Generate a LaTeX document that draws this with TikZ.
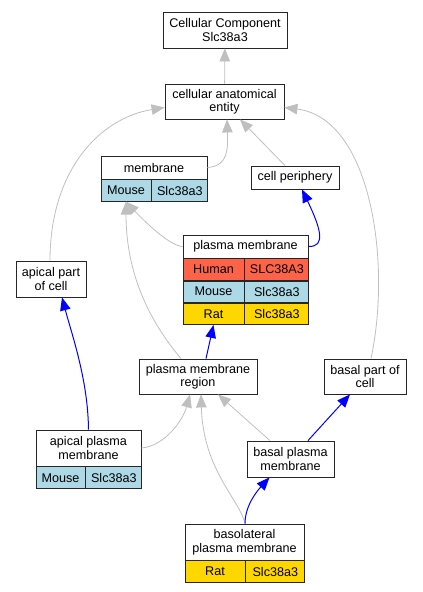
\documentclass[tikz,border=0pt]{standalone}
\usepackage{fontspec}
\setmainfont{Liberation Sans}
\usetikzlibrary{arrows.meta}
\definecolor{human}{HTML}{FF6347}
\definecolor{mouse}{HTML}{ADD8E6}
\definecolor{rat}{HTML}{FFD700}

\begin{document}
\begin{tikzpicture}[x=1pt, y=1pt, font=\fontsize{12.6}{13.5}\selectfont, term/.style={draw=black!85, line width=0.85pt, fill=white, inner sep=0pt, align=center}, sp/.style={term, anchor=north west, minimum height=21.3pt}, isa/.style={draw=black!25, line width=0.8pt, -{Triangle[length=13pt,width=10.5pt]}}, partof/.style={draw=blue, line width=1pt, -{Triangle[length=13pt,width=10.5pt]}}]
\useasboundingbox (0,0) rectangle (423,-592);

\node[term, minimum width=124pt, minimum height=36pt] (cc) at (225,-30) {Cellular Component\\Slc38a3};
\node[term, minimum width=119pt, minimum height=35pt] (cae) at (224.5,-101.5) {cellular anatomical\\entity};
\node[term, minimum width=106pt, minimum height=23pt] (membH) at (154,-167.5) {membrane};
\node[sp, fill=mouse, minimum width=50pt] (membSp) at (membH.south west) {Mouse};
\node[sp, fill=mouse, minimum width=56pt] (membGene) at (membSp.north east) {Slc38a3};
\node[term, minimum width=88pt, minimum height=23pt] (cellper) at (295,-177.5) {cell periphery};
\node[term, minimum width=125pt, minimum height=23pt] (pmH) at (245.5,-246.5) {plasma membrane};
\node[sp, fill=human, minimum width=61pt] (pmHumSp) at (pmH.south west) {Human};
\node[sp, fill=human, minimum width=64pt] (pmHumGene) at (pmHumSp.north east) {SLC38A3};
\node[sp, fill=mouse, minimum width=61pt] (pmMouSp) at (pmHumSp.south west) {Mouse};
\node[sp, fill=mouse, minimum width=64pt] (pmMouGene) at (pmMouSp.north east) {Slc38a3};
\node[sp, fill=rat, minimum width=61pt] (pmRatSp) at (pmMouSp.south west) {Rat};
\node[sp, fill=rat, minimum width=64pt] (pmRatGene) at (pmRatSp.north east) {Slc38a3};
\node[term, minimum width=70pt, minimum height=36pt] (apc) at (51,-279) {apical part\\of cell};
\node[term, minimum width=118pt, minimum height=35pt] (pmr) at (198,-376.5) {plasma membrane\\region};
\node[term, minimum width=82pt, minimum height=35pt] (bpc) at (365,-376.5) {basal part of\\cell};
\node[term, minimum width=105pt, minimum height=36pt] (apmH) at (88.5,-448) {apical plasma\\membrane};
\node[sp, fill=mouse, minimum width=49pt, minimum height=22pt] (apmSp) at (apmH.south west) {Mouse};
\node[sp, fill=mouse, minimum width=56pt, minimum height=22pt] (apmGene) at (apmSp.north east) {Slc38a3};
\node[term, minimum width=87pt, minimum height=36pt] (bpm) at (290.5,-459) {basal plasma\\membrane};
\node[term, minimum width=119pt, minimum height=36pt] (blpmH) at (244.5,-542) {basolateral\\plasma membrane};
\node[sp, fill=rat, minimum width=60pt] (blpmSp) at (blpmH.south west) {Rat};
\node[sp, fill=rat, minimum width=59pt] (blpmGene) at (blpmSp.north east) {Slc38a3};

\draw [isa] (cae) -- (cc);
\draw [isa] ([xshift=-1pt]apc.north) .. controls (50,-170) and (100,-118) .. ([yshift=-6pt]cae.west);
\draw [isa] (membH.east) .. controls (228,-166) and (228,-150) .. ([xshift=2.5pt]cae.south);
\draw [isa] ([xshift=-10pt]cellper.north) -- ([xshift=15.5pt]cae.south);
\draw [isa] ([xshift=6pt]bpc.north) .. controls (392,-260) and (370,-118) .. ([yshift=-6pt]cae.east);
\draw [isa] (pmH.west) .. controls (170,-246) and (145,-222) .. (membSp.south);
\draw [partof] (pmH.east) .. controls (326,-247) and (321,-229) .. ([xshift=7pt]cellper.south);
\draw [isa] ([xshift=-17pt]pmr.north) .. controls (140,-310) and (126,-260) .. (membSp.south);
\draw [partof] ([xshift=8pt]pmr.north) -- (pmRatSp.south);
\draw [partof] (apmH.north) .. controls (88,-380) and (72,-335) .. ([xshift=11pt]apc.south);
\draw [isa] (apmH.east) .. controls (165,-446) and (183,-420) .. ([xshift=-8pt]pmr.south);
\draw [isa] ([xshift=0.5pt]blpmH.north) .. controls (240,-500) and (203,-470) .. ([xshift=3pt]pmr.south);
\draw [isa] ([xshift=-20.5pt]bpm.north) -- ([xshift=20pt]pmr.south);
\draw [partof] ([xshift=17.5pt]bpm.north) -- ([xshift=-15pt]bpc.south);
\draw [partof] ([xshift=0.5pt]blpmH.north) .. controls (245,-505) and (258,-490) .. ([xshift=-21pt]bpm.south);

\end{tikzpicture}
\end{document}
